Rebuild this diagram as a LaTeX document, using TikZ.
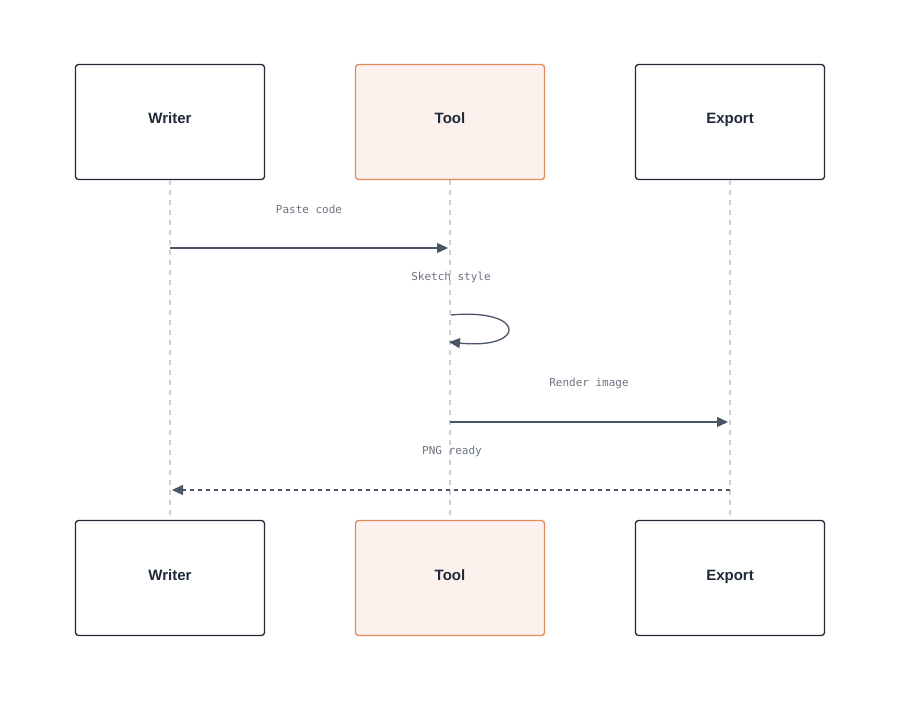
\documentclass[tikz,border=0pt]{standalone}
\usepackage{fontspec}
\setmainfont{Liberation Sans}
\newfontfamily\lblfont{DejaVu Sans Mono}
\usetikzlibrary{arrows.meta}
\definecolor{ink}{HTML}{1F2937}
\definecolor{arr}{HTML}{4B5568}
\definecolor{lbl}{HTML}{6B7280}
\definecolor{life}{HTML}{D0D0D0}
\definecolor{tfill}{HTML}{FDF1EE}
\definecolor{tdraw}{HTML}{E8875A}
\begin{document}
\begin{tikzpicture}[x=1pt,y=-1pt,
  actor/.style={draw=ink,line width=1.3pt,rounded corners=3pt,minimum width=189pt,minimum height=115pt,font=\bfseries\fontsize{15}{17}\selectfont,text=ink,fill=white,text height=9pt,text depth=5pt},
  tool/.style={actor,draw=tdraw,fill=tfill},
  msg/.style={draw=arr,line width=1.3pt,-{Triangle[length=11pt,width=10pt]}},
  lab/.style={font=\lblfont\fontsize{11}{13}\selectfont,text=lbl},
  lifeline/.style={draw=life,line width=1.1pt,dash pattern=on 5pt off 5pt}]
\useasboundingbox (0,0) rectangle (900,701);
\node[actor] (w1) at (170,122) {Writer};
\node[tool] (t1) at (450,122) {Tool};
\node[actor] (e1) at (730,122) {Export};
\node[actor] (w2) at (170,578) {Writer};
\node[tool] (t2) at (450,578) {Tool};
\node[actor] (e2) at (730,578) {Export};
\draw[lifeline] (w1.south) -- (w2.north);
\draw[lifeline] (t1.south) -- (t2.north);
\draw[lifeline] (e1.south) -- (e2.north);
\coordinate (a1) at (170,248); \coordinate (a2) at (448,248);
\draw[msg] (a1) -- (a2);
\node[lab] (l1) at (309,209) {Paste code};
\coordinate (s1) at (451,315); \coordinate (s2) at (449,342);
\draw[msg] (s1) .. controls (527,308) and (527,350) .. (s2);
\node[lab] (l2) at (451,277) {Sketch style};
\coordinate (r1) at (450,422); \coordinate (r2) at (728,422);
\draw[msg] (r1) -- (r2);
\node[lab] (l3) at (589,383) {Render image};
\coordinate (p1) at (730,490); \coordinate (p2) at (172,490);
\draw[msg,dash pattern=on 4pt off 4pt] (p1) -- (p2);
\node[lab] (l4) at (452,451) {PNG ready};
\end{tikzpicture}
\end{document}
